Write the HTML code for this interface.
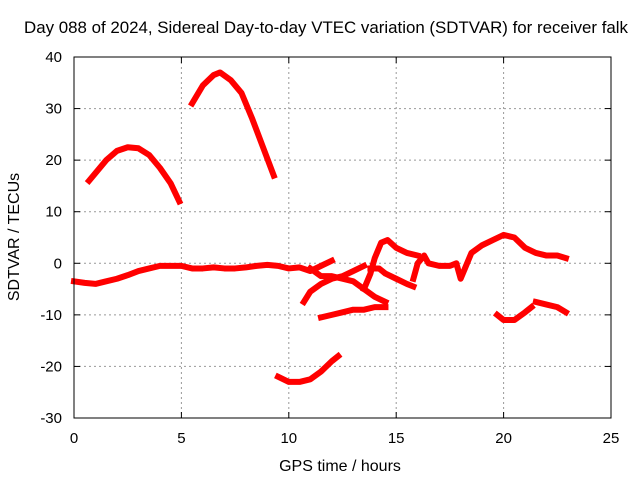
<!DOCTYPE html>
<html><head><meta charset="utf-8"><style>
body{margin:0;background:#fff;}
svg{display:block;font-family:"Liberation Sans",sans-serif;}
</style></head><body>
<svg id="chart" width="640" height="480">
<text x="24" y="33" textLength="604" lengthAdjust="spacingAndGlyphs" font-size="16.5">Day 088 of 2024, Sidereal Day-to-day VTEC variation (SDTVAR) for receiver falk</text>
<text x="340" y="471" text-anchor="middle" font-size="16">GPS time / hours</text>
<text transform="translate(19,237) rotate(-90)" text-anchor="middle" font-size="16">SDTVAR / TECUs</text>
<g id="grid"></g><g id="ticks"></g><g id="series"></g>
<rect x="74" y="57" width="537" height="361" fill="none" stroke="#000"/>
</svg>
<script>
const xTicks=[0,5,10,15,20,25];
const yTicks=[40,30,20,10,0,-10,-20,-30];
const seg1=[[0,-3.5],[0.5,-3.8],[1,-4],[1.5,-3.5],[2,-3],[2.5,-2.3],[3,-1.5],[3.5,-1],[4,-0.5],[4.5,-0.5],[5,-0.5],[5.5,-1],[6,-1],[6.5,-0.8],[7,-1],[7.5,-1],[8,-0.8],[8.5,-0.5],[9,-0.3],[9.5,-0.5],[10,-1],[10.5,-0.8],[11,-1.5],[11.5,-0.5],[12,0.5]];
const seg2=[[0.7,16],[1,17.5],[1.5,20],[2,21.8],[2.5,22.5],[3,22.3],[3.5,21],[4,18.5],[4.5,15.5],[4.9,12]];
const seg3=[[5.5,31],[6,34.5],[6.5,36.5],[6.8,37],[7.3,35.5],[7.8,33],[8.3,28],[8.8,22.5],[9.3,17]];
const seg4=[[9.5,-22],[10,-23],[10.5,-23],[11,-22.5],[11.5,-21],[12,-19],[12.3,-18]];
const seg5=[[11.5,-10.5],[12,-10],[12.5,-9.5],[13,-9],[13.5,-9],[14,-8.5],[14.5,-8.5]];
const seg6=[[10.7,-7.5],[11,-5.5],[11.5,-4],[12,-3],[12.5,-2.5],[13,-1.5],[13.5,-0.5]];
const seg7=[[11,-1],[11.5,-2.5],[12,-2.5],[12.5,-3],[13,-3.5],[13.5,-5],[14,-6.5],[14.5,-7.5]];
const seg8=[[13.5,-5],[13.8,-2],[14,1],[14.3,4],[14.6,4.5],[15,3],[15.5,2],[16,1.5]];
const seg9=[[13.8,-1],[14.2,-1],[14.5,-2],[15,-3],[15.5,-4],[15.8,-4.5]];
const seg10=[[15.8,-3],[16,0],[16.3,1.5],[16.5,0],[17,-0.5],[17.5,-0.5],[17.8,0],[18,-3],[18.2,-1],[18.5,2],[19,3.5],[19.5,4.5],[20,5.5],[20.5,5],[21,3],[21.5,2],[22,1.5],[22.5,1.5],[22.9,1]];
const seg11=[[19.7,-10],[20,-11],[20.5,-11],[21,-9.5],[21.3,-8.5]];
const seg12=[[21.5,-7.5],[22,-8],[22.5,-8.5],[22.9,-9.5]];
const segments=[seg1,seg2,seg3,seg4,seg5,seg6,seg7,seg8,seg9,seg10,seg11,seg12];
const NS="http://www.w3.org/2000/svg";
const X=h=>74+h*537/25, Y=v=>57+(40-v)*361/70;
const grid=document.getElementById('grid'),ticks=document.getElementById('ticks'),ser=document.getElementById('series');
function mk(tag,attrs,parent){const e=document.createElementNS(NS,tag);for(const k in attrs)e.setAttribute(k,attrs[k]);parent.appendChild(e);return e;}
xTicks.forEach(t=>{const x=X(t);
 if(t>0&&t<25){const g=mk('line',{x1:x,x2:x,y1:57,y2:418,stroke:'#999','stroke-dasharray':'2,3'},grid);
 
 }
 mk('line',{x1:x,x2:x,y1:418,y2:412,stroke:'#000'},ticks);mk('line',{x1:x,x2:x,y1:57,y2:63,stroke:'#000'},ticks);
 const l=mk('text',{x:x,y:443,'text-anchor':'middle','font-size':15},ticks);l.textContent=t;
 
 });
yTicks.forEach(t=>{const y=Y(t);
 if(t<40&&t>-30){const g=mk('line',{x1:74,x2:611,y1:y,y2:y,stroke:'#999','stroke-dasharray':'2,3'},grid);
 
 }
 mk('line',{x1:74,x2:80,y1:y,y2:y,stroke:'#000'},ticks);mk('line',{x1:611,x2:605,y1:y,y2:y,stroke:'#000'},ticks);
 const l=mk('text',{x:62,y:y+5,'text-anchor':'end','font-size':15},ticks);l.textContent=t;
 
 });
segments.forEach((s,i)=>{const p=mk('polyline',{points:s.map(d=>X(d[0])+','+Y(d[1])).join(' '),fill:'none',stroke:'#f00','stroke-width':6,'stroke-linejoin':'round','stroke-linecap':'square'},ser);
 
 });
</script>
</body></html>
